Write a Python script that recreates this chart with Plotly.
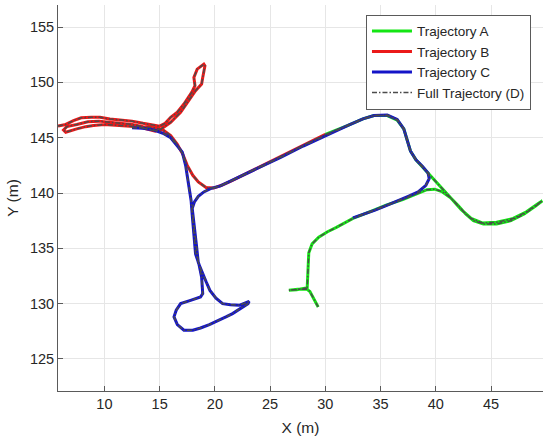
import plotly.graph_objects as go

# ---- data (metres) ----
a_x = [29.35, 29.0, 28.6, 28.2, 27.4, 26.7, 27.5, 28.35, 28.4, 28.45, 28.5, 28.8, 29.4, 30.2, 31.0, 32.5, 34.0,
       35.5, 37.0, 38.3, 39.2, 39.9, 40.6, 41.3, 42.0, 42.7, 43.4, 44.3, 45.5, 46.8, 48.0, 49.0, 49.65,
       49.2, 48.2, 47.0, 45.5, 44.2, 43.2, 42.3, 41.5, 40.6, 39.8, 39.35, 38.8, 38.2, 37.7, 37.4, 37.1,
       36.5, 35.6, 34.4, 33.4, 32.0, 31.0, 30.0]
a_y = [129.7, 130.4, 131.1, 131.4, 131.25, 131.2, 131.3, 131.3, 132.0, 133.5, 134.6, 135.4, 136.0, 136.5, 136.9,
       137.7, 138.3, 138.9, 139.4, 139.9, 140.3, 140.35, 140.1, 139.6, 138.9, 138.1, 137.5, 137.2, 137.2,
       137.5, 138.1, 138.8, 139.3, 139.0, 138.3, 137.7, 137.35, 137.3, 137.7, 138.5, 139.4, 140.4, 141.2,
       141.8, 142.4, 143.0, 143.8, 144.8, 145.8, 146.6, 147.0, 147.0, 146.7, 146.1, 145.7, 145.3]

b_x = [5.8, 6.5, 7.2, 7.9, 8.8, 9.6, 10.5, 11.5, 12.5, 13.5, 14.3, 15.0, 15.5, 16.0, 16.6, 17.2, 17.9, 18.2,
       18.1, 18.4, 19.0, 19.1, 18.9, 18.8, 18.25, 17.65, 16.9, 16.0, 15.15, 14.6, 14.0, 13.0, 12.0, 11.0,
       10.0, 9.0, 8.3, 7.5, 6.9, 6.5, 6.3, 6.6, 7.5, 8.5, 9.5, 10.5, 11.5, 12.5, 13.5, 14.5, 15.3, 16.0,
       16.6, 17.1, 17.5, 18.0, 18.5, 19.2, 19.9, 20.6, 21.5, 22.5, 23.5, 24.5, 25.5, 26.5, 27.5, 28.5,
       29.3, 30.0]
b_y = [146.05, 146.2, 146.55, 146.8, 146.85, 146.85, 146.7, 146.6, 146.5, 146.3, 146.15, 146.05, 146.3,
       146.85, 147.3, 148.05, 149.1, 149.7, 150.45, 151.2, 151.65, 151.5, 150.45, 149.85, 149.25, 148.35,
       147.3, 146.4, 145.8, 145.6, 145.75, 146.0, 146.05, 146.15, 146.2, 146.1, 146.0, 145.8, 145.6, 145.5,
       145.7, 146.0, 146.2, 146.45, 146.5, 146.4, 146.35, 146.2, 146.0, 145.9, 145.7, 145.2, 144.4, 143.5,
       142.5, 141.6, 141.0, 140.5, 140.45, 140.7, 141.1, 141.6, 142.1, 142.6, 143.1, 143.6, 144.1, 144.6,
       144.95, 145.3]

c_x = [12.5, 13.5, 14.5, 15.3, 16.0, 16.6, 17.05, 17.35, 17.65, 17.85, 17.95, 18.05, 18.25, 18.55, 18.8,
       18.9, 18.7, 17.8, 16.9, 16.5, 16.3, 16.6, 17.2, 18.0, 18.7, 19.5, 20.2, 21.0, 21.6, 22.5, 23.0, 23.1,
       22.2, 21.4, 20.7, 20.1, 19.55, 19.2, 18.9, 18.5, 18.35, 18.15, 18.0, 17.95, 18.15, 18.5, 19.0, 19.6,
       20.5, 22.0, 24.0, 26.0, 28.0, 30.0, 31.0, 32.0, 33.4, 34.4, 35.6, 36.5, 37.1, 37.4, 37.7, 38.2,
       38.8, 39.3, 39.4, 39.1, 38.4, 37.5, 36.5, 35.5, 34.5, 33.5, 32.5]
c_y = [145.9, 145.85, 145.7, 145.4, 145.0, 144.3, 143.7, 142.5, 140.8, 139.3, 138.0, 136.6, 134.5, 133.6,
       132.4, 130.9, 130.6, 130.3, 130.0, 129.4, 128.8, 128.1, 127.6, 127.6, 127.8, 128.1, 128.4, 128.8,
       129.1, 129.7, 130.0, 130.2, 129.85, 129.9, 130.0, 130.5, 131.2, 132.0, 132.8, 133.7, 135.1, 136.6,
       137.8, 138.6, 139.2, 139.7, 140.1, 140.4, 140.65, 141.35, 142.3, 143.25, 144.25, 145.2, 145.7,
       146.1, 146.7, 147.0, 147.05, 146.65, 145.8, 144.8, 143.8, 143.0, 142.4, 141.8, 141.3, 140.7, 140.1,
       139.7, 139.25, 138.85, 138.45, 138.1, 137.75]

# full trajectory D = all segments (gaps between them)
d_x = b_x + [None] + c_x + [None] + a_x
d_y = b_y + [None] + c_y + [None] + a_y

x_ticks = [10, 15, 20, 25, 30, 35, 40, 45]
y_ticks = [125, 130, 135, 140, 145, 150, 155]

FONT = "Liberation Sans, Arial, sans-serif"
TXT = "#262626"

fig = go.Figure()
fig.add_trace(go.Scatter(x=a_x, y=a_y, mode="lines", name="Trajectory A",
                         line=dict(color="rgb(20,230,20)", width=3)))
fig.add_trace(go.Scatter(x=b_x, y=b_y, mode="lines", name="Trajectory B",
                         line=dict(color="rgb(235,25,25)", width=3)))
fig.add_trace(go.Scatter(x=c_x, y=c_y, mode="lines", name="Trajectory C",
                         line=dict(color="rgb(20,20,200)", width=3)))
fig.add_trace(go.Scatter(x=d_x, y=d_y, mode="lines", name="Full Trajectory (D)",
                         line=dict(color="rgb(75,75,75)", width=1.5, dash="5px,2px,1.5px,2px"),
                         connectgaps=False))

axis_common = dict(showgrid=True, gridcolor="#e6e6e6", gridwidth=1, zeroline=False,
                   showline=True, linecolor="#5a5a5a", linewidth=1,
                   ticks="inside", ticklen=5, tickcolor="#5a5a5a",
                   tickfont=dict(family=FONT, size=14.5, color=TXT))

fig.update_layout(
    width=550, height=443,
    margin=dict(l=58, r=7, t=5, b=52),
    paper_bgcolor="white", plot_bgcolor="white",
    font=dict(family=FONT, color=TXT),
    showlegend=True,
    legend=dict(x=0.635, y=0.975, xanchor="left", yanchor="top",
                bgcolor="white", bordercolor="#5a5a5a", borderwidth=1,
                font=dict(family=FONT, size=13.5, color=TXT),
                tracegroupgap=0, itemwidth=40),
    xaxis=dict(range=[5.8, 49.7], tickvals=x_ticks,
               title=dict(text="X (m)", font=dict(family=FONT, size=15.5, color=TXT), standoff=10),
               **axis_common),
    yaxis=dict(range=[122.1, 157.0], tickvals=y_ticks,
               title=dict(text="Y (m)", font=dict(family=FONT, size=15.5, color=TXT), standoff=7),
               **axis_common),
)

fig.write_html("out.html", config={"displayModeBar": False},
               post_script="document.body.style.margin='0';")
